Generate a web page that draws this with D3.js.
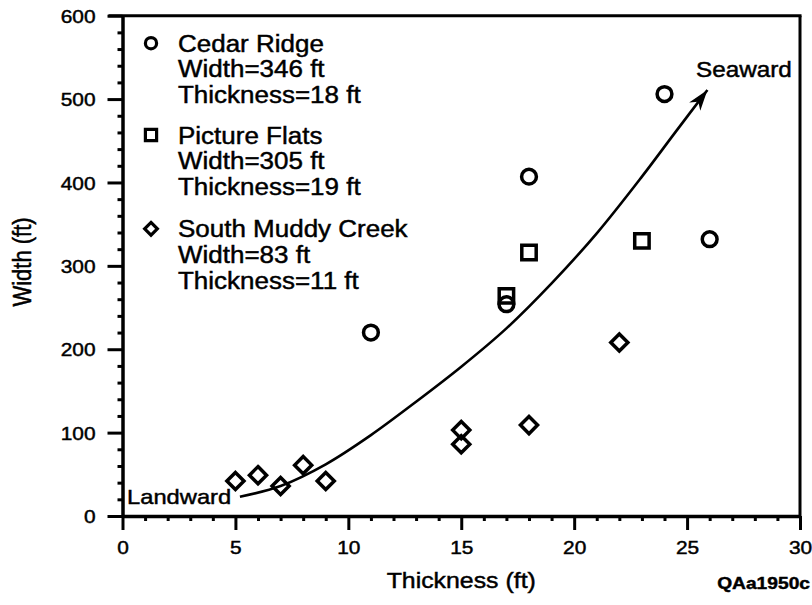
<!DOCTYPE html>
<html>
<head>
<meta charset="utf-8">
<script src="https://cdn.jsdelivr.net/npm/d3@7"></script>
<style>
  body { margin: 0; background: #fff; }
  text { font-family: "Liberation Sans", Arial, Helvetica, sans-serif; fill: #000; stroke: #000; stroke-width: 0.45px; }
</style>
</head>
<body>
<svg id="chart" width="812" height="605"></svg>
<script>
// Channel-belt geometry: sandstone body thickness vs. width (ft)
const cedarThickness = [11, 17, 18, 24, 26];
const cedarWidth     = [220, 254, 407, 506, 332];

const flatsThickness = [17, 18, 23];
const flatsWidth     = [264, 316, 330];

const muddyThickness = [5, 6, 7, 8, 9, 15, 15, 18, 22];
const muddyWidth     = [42, 49, 36, 61, 42, 103, 86, 109, 208];

// Landward-to-seaward trend arrow
const trendThickness = [5.2, 7, 9, 11, 13, 15, 17, 19, 21, 23, 24.5, 25.9];
const trendWidth     = [23, 36, 62, 97, 137, 179, 225, 279, 339, 407, 461, 511];

// Legend: section name with mean width and thickness
const seriesNames   = ["Cedar Ridge", "Picture Flats", "South Muddy Creek"];
const seriesSymbols = ["circle", "square", "diamond"];
const meanWidth     = [346, 305, 83];
const meanThickness = [18, 19, 11];

const xTickValues = [0, 5, 10, 15, 20, 25, 30];
const yTickValues = [0, 100, 200, 300, 400, 500, 600];

const S = 1.13; // horizontal stretch of the lettering

const svg = d3.select("#chart");
const x = d3.scaleLinear().domain([0, 30]).range([122.5, 800]);
const y = d3.scaleLinear().domain([0, 600]).range([516, 15.7]);

// stretch a text element horizontally while keeping its anchor point
function stretch(sel) {
  sel.each(function () {
    const t = d3.select(this);
    const x0 = +t.attr("x") || 0;
    t.attr("x", x0 / S).attr("transform", `scale(${S},1)`);
  });
}
function label(str, px, py, size, anchor, weight) {
  const g = svg.append("g").attr("transform", `translate(${px},${py}) scale(${S},1)`);
  return g.append("text").attr("text-anchor", anchor || "start")
    .attr("font-size", size).attr("font-weight", weight || "normal").text(str);
}

// frame: top and right edges
svg.append("line").attr("x1", x(0) - 14).attr("x2", x(30) + 1.5)
  .attr("y1", y(600)).attr("y2", y(600)).attr("stroke", "#000").attr("stroke-width", 3);
svg.append("line").attr("x1", x(30)).attr("x2", x(30))
  .attr("y1", y(600)).attr("y2", y(0)).attr("stroke", "#000").attr("stroke-width", 3);

// minor ticks
const xMinor = d3.range(0, 31).filter(v => v % 5 !== 0);
const yMinor = d3.range(0, 601, 20).filter(v => v % 100 !== 0);
svg.append("g").attr("transform", `translate(0,${y(0)})`)
  .call(d3.axisBottom(x).tickValues(xMinor).tickSize(5).tickSizeOuter(0).tickFormat(""))
  .call(g => g.select(".domain").remove())
  .call(g => g.selectAll("line").attr("stroke-width", 3));
svg.append("g").attr("transform", `translate(${x(0)},0)`)
  .call(d3.axisLeft(y).tickValues(yMinor).tickSize(5).tickSizeOuter(0).tickFormat(""))
  .call(g => g.select(".domain").remove())
  .call(g => g.selectAll("line").attr("stroke-width", 3));

// major axes
const xAxis = svg.append("g").attr("transform", `translate(0,${y(0)})`)
  .call(d3.axisBottom(x).tickValues(xTickValues).tickSize(14).tickSizeOuter(0).tickPadding(11));
const yAxis = svg.append("g").attr("transform", `translate(${x(0)},0)`)
  .call(d3.axisLeft(y).tickValues(yTickValues).tickSize(15).tickSizeOuter(0).tickPadding(12));
[xAxis, yAxis].forEach(a => {
  a.select(".domain").attr("stroke-width", 3.5);
  a.selectAll(".tick line").attr("stroke-width", 3);
  a.selectAll(".tick text").attr("font-size", 18.5).attr("fill", "#000")
    .attr("font-family", "Liberation Sans, Arial, sans-serif").call(stretch);
});
yAxis.selectAll(".tick text").attr("dy", "0.36em");

// axis titles and figure number
label("Thickness (ft)", (x(0) + x(30)) / 2, 588, 22, "middle");
svg.append("g").attr("transform", `translate(31,262) scale(${S},1) rotate(-90)`)
  .append("text").attr("text-anchor", "middle").attr("font-size", 22).text("Width (ft)");
label("QAa1950c", 810, 589, 17, "end", "bold");

// trend curve with arrowhead
const trend = trendThickness.map((t, i) => [x(t), y(trendWidth[i])]);
svg.append("path")
  .attr("d", d3.line().curve(d3.curveCatmullRom)(trend))
  .attr("fill", "none").attr("stroke", "#000").attr("stroke-width", 2.6);
{
  const [tx, ty] = trend[trend.length - 1];
  const [px, py] = trend[trend.length - 2];
  const ang = Math.atan2(ty - py, tx - px) * 180 / Math.PI;
  svg.append("path")
    .attr("transform", `translate(${tx},${ty}) rotate(${ang})`)
    .attr("d", "M0,0 L-21,-7 L-15,0 L-21,7 Z")
    .attr("fill", "#000");
}
label("Seaward", 696, 77, 21.5, "start");
label("Landward", 127, 504, 21, "start");

// symbols
function symbolPath(kind, s) {
  if (kind === "circle") return d3.arc()({innerRadius: 0, outerRadius: s, startAngle: 0, endAngle: 2 * Math.PI});
  if (kind === "square") return `M${-s},${-s}H${s}V${s}H${-s}Z`;
  const d = s * 1.22;
  return `M0,${-d}L${d},0L0,${d}L${-d},0Z`;
}
function drawSeries(tArr, wArr, kind, size) {
  svg.append("g").selectAll("path").data(tArr).join("path")
    .attr("transform", (t, i) => `translate(${x(t)},${y(wArr[i])})`)
    .attr("d", symbolPath(kind, size))
    .attr("fill", "none").attr("stroke", "#000").attr("stroke-width", 3.5)
    .attr("stroke-linejoin", "miter");
}
drawSeries(muddyThickness, muddyWidth, "diamond", 7);
drawSeries(flatsThickness, flatsWidth, "square", 7.2);
drawSeries(cedarThickness, cedarWidth, "circle", 7.4);

// legend
const legendTop = [51.7, 143.5, 237.3];
const lineGap = 25.7;
seriesNames.forEach((name, i) => {
  const b = legendTop[i];
  svg.append("path")
    .attr("transform", `translate(151,${b - 8.5})`)
    .attr("d", symbolPath(seriesSymbols[i], seriesSymbols[i] === "diamond" ? 5.2 : 5.6))
    .attr("fill", "none").attr("stroke", "#000").attr("stroke-width", 3.2);
  label(name, 178, b, 23);
  label(`Width=${meanWidth[i]} ft`, 178, b + lineGap, 23);
  label(`Thickness=${meanThickness[i]} ft`, 178, b + 2 * lineGap, 23);
});
</script>
</body>
</html>
